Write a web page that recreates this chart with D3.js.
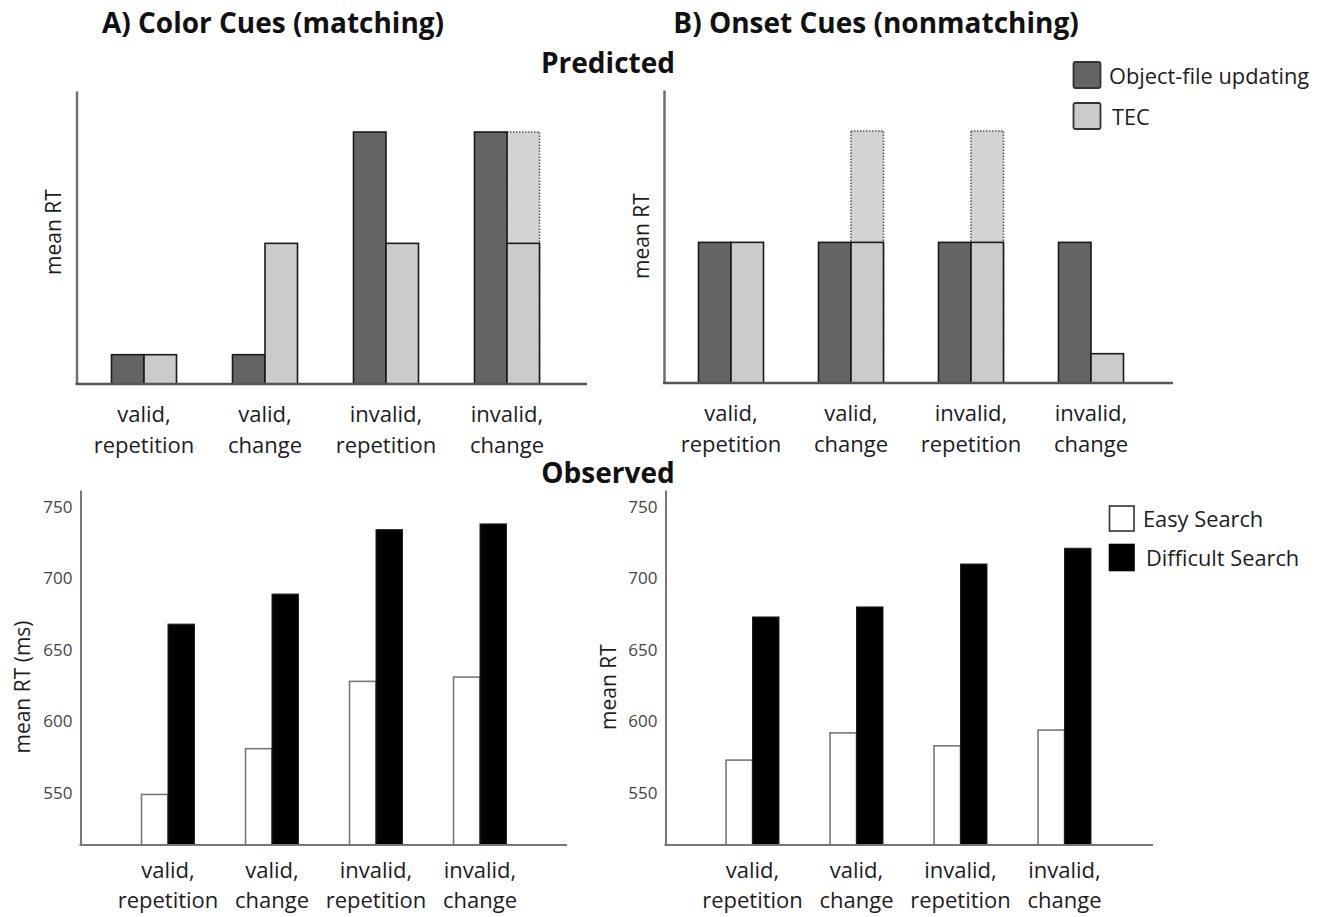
<!DOCTYPE html>
<html>
<head>
<meta charset="utf-8">
<script src="https://cdn.jsdelivr.net/npm/d3@7"></script>
<style>
  html, body { margin: 0; padding: 0; background: #fff; }
  svg { display: block; font-family: "Open Sans", "Noto Sans", sans-serif; }
</style>
</head>
<body>
<svg id="chart" width="1328" height="917"></svg>
<script>
// ---------- data ----------
const categories = ["valid, repetition", "valid, change", "invalid, repetition", "invalid, change"];
const catLine1 = ["valid,", "valid,", "invalid,", "invalid,"];
const catLine2 = ["repetition", "change", "repetition", "change"];

// Predicted (arbitrary units)
const colorObjectFile = [1, 1, 8.6, 8.6];
const colorTEC        = [1, 4.8, 4.8, 4.8];
const colorTECAlt     = [null, null, null, 8.6];
const onsetObjectFile = [4.8, 4.8, 4.8, 4.8];
const onsetTEC        = [4.8, 4.8, 4.8, 1];
const onsetTECAlt     = [null, 8.6, 8.6, null];

// Observed (ms)
const colorEasy      = [549, 581, 628, 631];
const colorDifficult = [668, 689, 734, 738];
const onsetEasy      = [573, 592, 583, 594];
const onsetDifficult = [673, 680, 710, 721];
const rtTicks = [550, 600, 650, 700, 750];

const predLegend = ["Object-file updating", "TEC"];
const obsLegend = ["Easy Search", "Difficult Search"];

// ---------- styles ----------
const DARK = "#646464", LIGHT = "#cbcbcb", ALT = "#d3d3d3";
const TXT = "#1c1c24";
const svg = d3.select("#chart");

// ---------- headings ----------
[["A) Color Cues (matching)", 273, 33], ["B) Onset Cues (nonmatching)", 876, 33],
 ["Predicted", 608, 73], ["Observed", 608, 483]].forEach(([t, x, y]) => {
  svg.append("text").attr("x", x).attr("y", y).attr("text-anchor", "middle")
    .attr("font-size", 28).attr("font-weight", 700).attr("fill", "#111").text(t);
});

function catLabels(g, x, yBase, gap) {
  categories.forEach((c, i) => {
    const t = g.append("text").attr("text-anchor", "middle").attr("font-size", 22).attr("fill", TXT);
    t.append("tspan").attr("x", x(c)).attr("y", yBase).text(catLine1[i]);
    t.append("tspan").attr("x", x(c)).attr("y", yBase + gap).text(catLine2[i]);
  });
}

// ---------- predicted panels ----------
function predictedPanel(opt) {
  const g = svg.append("g");
  const y = d3.scaleLinear().domain([0, 10]).range([opt.base, opt.top]);
  const x = d3.scalePoint().domain(categories).range(opt.xr).padding(0.5);
  const bw = 32.5;

  // dotted alternative TEC prediction
  g.selectAll("rect.alt").data(opt.alt.map((v, i) => ({v, c: categories[i]})).filter(d => d.v !== null))
    .join("rect").attr("class", "alt")
    .attr("x", d => x(d.c)).attr("width", bw)
    .attr("y", d => y(d.v)).attr("height", d => y(0) - y(d.v))
    .attr("fill", ALT).attr("stroke", "#555").attr("stroke-width", 1.5).attr("stroke-dasharray", "1.5,1.5");

  g.selectAll("rect.obj").data(opt.obj.map((v, i) => ({v, c: categories[i]})))
    .join("rect").attr("class", "obj")
    .attr("x", d => x(d.c) - bw).attr("width", bw)
    .attr("y", d => y(d.v)).attr("height", d => y(0) - y(d.v))
    .attr("fill", DARK).attr("stroke", "#1a1a1a").attr("stroke-width", 1.6);

  g.selectAll("rect.tec").data(opt.tec.map((v, i) => ({v, c: categories[i]})))
    .join("rect").attr("class", "tec")
    .attr("x", d => x(d.c)).attr("width", bw)
    .attr("y", d => y(d.v)).attr("height", d => y(0) - y(d.v))
    .attr("fill", LIGHT).attr("stroke", "#1a1a1a").attr("stroke-width", 1.6);

  // axes
  const ax = g.append("g").attr("transform", `translate(${opt.axisX},0)`)
    .call(d3.axisLeft(y).tickValues([]).tickSizeOuter(0));
  ax.select(".domain").attr("stroke", "#6f6f6f").attr("stroke-width", 2.5);
  g.append("line").attr("x1", opt.axisX - 1).attr("x2", opt.xEnd).attr("y1", y(0)).attr("y2", y(0))
    .attr("stroke", "#555").attr("stroke-width", 2.5);

  g.append("text").attr("transform", `translate(${opt.labX},${opt.labY}) rotate(-90)`)
    .attr("text-anchor", "middle").attr("dominant-baseline", "central")
    .attr("font-size", 21).attr("fill", TXT).text("mean RT");

  catLabels(g, x, opt.base + 37.5, 31);
}

predictedPanel({ base: 384, top: 91, xr: [83.5, 567.5], axisX: 76.5, xEnd: 587,
  obj: colorObjectFile, tec: colorTEC, alt: colorTECAlt, labX: 53, labY: 232 });
predictedPanel({ base: 383, top: 90, xr: [671, 1151], axisX: 664, xEnd: 1173,
  obj: onsetObjectFile, tec: onsetTEC, alt: onsetTECAlt, labX: 641, labY: 236 });

// predicted legend
const pl = svg.append("g");
predLegend.forEach((name, i) => {
  const yy = 62 + i * 41;
  pl.append("rect").attr("x", 1073.5).attr("y", yy).attr("width", 27).attr("height", 26).attr("rx", 2)
    .attr("fill", i === 0 ? DARK : LIGHT).attr("stroke", "#333").attr("stroke-width", 1.8);
  pl.append("text").attr("x", i === 0 ? 1109 : 1112).attr("y", yy + 22).attr("font-size", 21.8)
    .attr("fill", TXT).text(name);
});

// ---------- observed panels ----------
function observedPanel(opt) {
  const g = svg.append("g");
  const y = d3.scaleLinear().domain([513.7, 761.7]).range([845, 490]);
  const x = d3.scalePoint().domain(categories).range(opt.xr).padding(0.5);
  const bw = 26.5;

  g.selectAll("rect.easy").data(opt.easy.map((v, i) => ({v, c: categories[i]})))
    .join("rect").attr("class", "easy")
    .attr("x", d => x(d.c) - bw).attr("width", bw)
    .attr("y", d => y(d.v)).attr("height", d => y.range()[0] - y(d.v))
    .attr("fill", "#fff").attr("stroke", "#777").attr("stroke-width", 1.6);

  g.selectAll("rect.diff").data(opt.diff.map((v, i) => ({v, c: categories[i]})))
    .join("rect").attr("class", "diff")
    .attr("x", d => x(d.c)).attr("width", bw)
    .attr("y", d => y(d.v)).attr("height", d => y.range()[0] - y(d.v))
    .attr("fill", "#000").attr("stroke", "#222").attr("stroke-width", 1);

  const ax = g.append("g").attr("transform", `translate(${opt.axisX},0)`)
    .call(d3.axisLeft(y).tickValues(rtTicks).tickSize(0).tickSizeOuter(0).tickPadding(8));
  ax.select(".domain").attr("stroke", "#777").attr("stroke-width", 2);
  ax.selectAll(".tick text").attr("font-size", 17).attr("fill", "#444")
    .attr("font-family", "'Open Sans', sans-serif");
  g.append("line").attr("x1", opt.axisX - 1).attr("x2", opt.xEnd).attr("y1", 845).attr("y2", 845)
    .attr("stroke", "#777").attr("stroke-width", 2);

  g.append("text").attr("transform", `translate(${opt.labX},687) rotate(-90)`)
    .attr("text-anchor", "middle").attr("dominant-baseline", "central")
    .attr("font-size", 21).attr("fill", TXT).text(opt.label);

  catLabels(g, x, 878, 29.5);
}

observedPanel({ xr: [116, 532], axisX: 80.5, xEnd: 567, easy: colorEasy, diff: colorDifficult,
  labX: 22, label: "mean RT (ms)" });
observedPanel({ xr: [700.5, 1116.5], axisX: 665.5, xEnd: 1153, easy: onsetEasy, diff: onsetDifficult,
  labX: 608, label: "mean RT" });

// observed legend
const ol = svg.append("g");
obsLegend.forEach((name, i) => {
  const yy = 506 + i * 38.5;
  ol.append("rect").attr("x", 1109.5).attr("y", yy).attr("width", 24.5).attr("height", i === 0 ? 25 : 26)
    .attr("fill", i === 0 ? "#fff" : "#000").attr("stroke", i === 0 ? "#333" : "#000").attr("stroke-width", 1.6);
  ol.append("text").attr("x", i === 0 ? 1143 : 1146).attr("y", yy + 21).attr("font-size", 21.8)
    .attr("fill", TXT).text(name);
});
</script>
</body>
</html>
